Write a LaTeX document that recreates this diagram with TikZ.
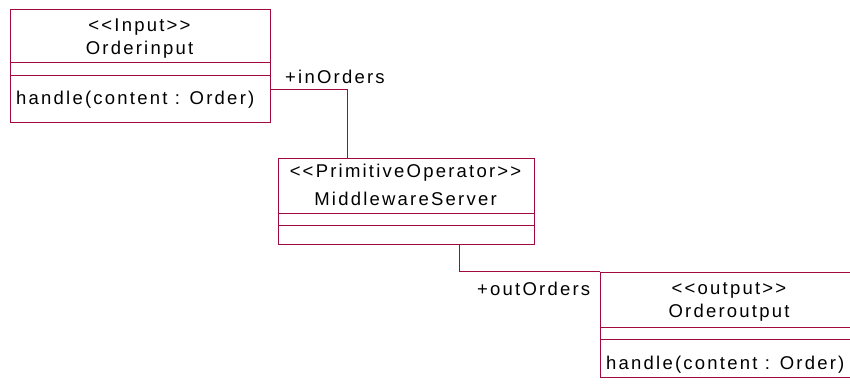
\documentclass[tikz,border=0pt]{standalone}
\usepackage{fontspec}
\setmainfont{Liberation Sans}[LetterSpace=12]
\definecolor{umlred}{RGB}{160,10,60}
\newcommand{\lt}{<\kern2.2bp}
\newcommand{\gt}{>\kern2.2bp}
\tikzset{
  umlbox/.style={draw=umlred, line width=1bp, anchor=north west, inner sep=0pt, fill=white},
  sepline/.style={draw=umlred, line width=1bp},
  conn/.style={draw=umlred, line width=1bp},
  txt/.style={inner sep=0pt, font=\fontsize{18.5bp}{20bp}\selectfont, text=black},
}
\begin{document}
\begin{tikzpicture}[x=1bp,y=-1bp]
\useasboundingbox (0,0) rectangle (850,388);
\clip (0,0) rectangle (850,388);
% boxes
\node[umlbox, minimum width=260bp, minimum height=113bp] (inbox) at (9.5,8.5) {};
\node[umlbox, minimum width=256bp, minimum height=86bp] (midbox) at (277.5,157.5) {};
\node[umlbox, minimum width=262bp, minimum height=105bp] (outbox) at (599.5,271.5) {};
% compartments
\draw[sepline] (inbox.west |- 0,62.5) -- (inbox.east |- 0,62.5);
\draw[sepline] (inbox.west |- 0,75.5) -- (inbox.east |- 0,75.5);
\draw[sepline] (midbox.west |- 0,213.5) -- (midbox.east |- 0,213.5);
\draw[sepline] (midbox.west |- 0,225.5) -- (midbox.east |- 0,225.5);
\draw[sepline] (outbox.west |- 0,327.5) -- (outbox.east |- 0,327.5);
\draw[sepline] (outbox.west |- 0,339.5) -- (outbox.east |- 0,339.5);
% texts
\node[txt] (inst) at (139.5,27) {\lt\lt Input\gt>};
\node[txt] (inname) at (139.5,50) {Orderinput};
\node[txt, anchor=west] (inop) at (16,100) {handle(content : Order)};
\node[txt] (midst) at (405.5,173) {\lt\lt PrimitiveOperator\gt>};
\node[txt] (midname) at (405.5,199) {MiddlewareServer};
\node[txt] (outst) at (729,290) {\lt\lt output\gt>};
\node[txt] (outname) at (729,313) {Orderoutput};
\node[txt, anchor=west] (outop) at (606,365) {handle(content : Order)};
% connectors
\coordinate (c1a) at (inbox.east |- 0,89.5);
\coordinate (c1b) at (347.5,89.5);
\draw[conn] (c1a) -- (c1b) -- (c1b |- midbox.north);
\coordinate (c2a) at (midbox.south -| 459.5,0);
\coordinate (c2b) at (459.5,271.5);
\draw[conn] (c2a) -- (c2b) -- (outbox.north west);
% role labels
\node[txt, anchor=west] (rin) at (285,77) {+inOrders};
\node[txt, anchor=west] (rout) at (477,289) {+outOrders};
\end{tikzpicture}
\end{document}
